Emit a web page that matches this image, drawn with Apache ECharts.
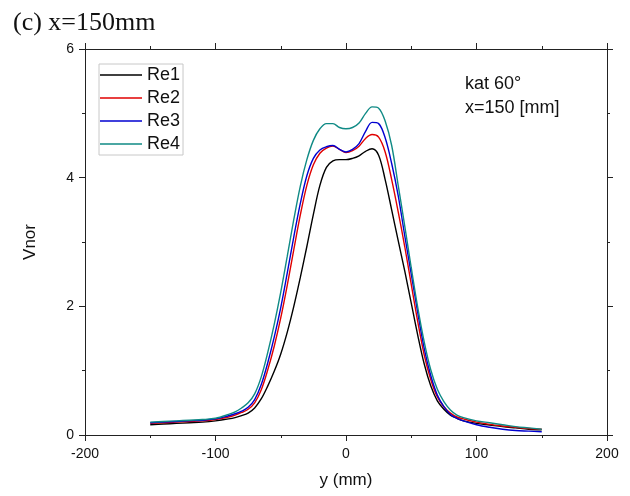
<!DOCTYPE html>
<html>
<head>
<meta charset="utf-8">
<script src="https://cdn.jsdelivr.net/npm/echarts@6/dist/echarts.min.js"></script>
<style>html,body{margin:0;padding:0;background:#fff}#c{width:630px;height:496px}</style>
</head>
<body>
<div id="c"></div>
<script>
var yPos = [-150,-140,-130,-120,-110,-100,-90,-85,-80,-75,-70,-65,-60,-55,-50,-45,-40,-35,-30,-25,-20,-15,-10,-5,0,5,10,15,20,25,30,35,40,45,50,55,60,65,70,75,80,85,90,100,110,120,130,140,150];
var re1 = [0.16,0.17,0.18,0.19,0.20,0.22,0.25,0.27,0.30,0.34,0.42,0.56,0.76,0.99,1.26,1.60,2.00,2.45,2.93,3.43,3.88,4.16,4.26,4.28,4.28,4.30,4.34,4.41,4.45,4.35,3.97,3.50,3.02,2.55,2.05,1.55,1.10,0.76,0.53,0.40,0.31,0.26,0.22,0.18,0.155,0.13,0.11,0.09,0.08];
var re2 = [0.18,0.19,0.20,0.21,0.22,0.24,0.28,0.31,0.35,0.40,0.50,0.70,1.01,1.38,1.82,2.33,2.88,3.42,3.88,4.20,4.38,4.46,4.49,4.44,4.39,4.42,4.49,4.61,4.67,4.63,4.40,3.97,3.47,2.93,2.34,1.76,1.24,0.86,0.59,0.44,0.34,0.28,0.25,0.20,0.165,0.14,0.12,0.10,0.09];
var re3 = [0.19,0.20,0.21,0.22,0.23,0.25,0.30,0.33,0.37,0.43,0.55,0.78,1.12,1.52,1.98,2.52,3.08,3.60,4.03,4.30,4.43,4.48,4.50,4.44,4.40,4.44,4.53,4.72,4.86,4.84,4.62,4.22,3.72,3.10,2.50,1.90,1.34,0.92,0.62,0.44,0.32,0.26,0.22,0.16,0.12,0.09,0.07,0.06,0.05];
var re4 = [0.20,0.21,0.22,0.23,0.24,0.26,0.32,0.36,0.42,0.50,0.64,0.90,1.28,1.72,2.22,2.78,3.35,3.87,4.28,4.58,4.76,4.84,4.84,4.78,4.76,4.78,4.85,5.00,5.10,5.08,4.88,4.50,3.88,3.25,2.60,1.98,1.44,1.01,0.71,0.52,0.39,0.31,0.27,0.22,0.19,0.16,0.13,0.11,0.09];
var seriesNames = ['Re1','Re2','Re3','Re4'];
var seriesValues = [re1, re2, re3, re4];
var seriesColors = ['#000000','#e00000','#0000d0','#0f8a85'];
var xTicks = {min:-200, max:200, interval:100};
var yTicks = {min:0, max:6, interval:2};

function pairs(vals){ return yPos.map(function(x,i){ return [x, vals[i]]; }); }

var axisCommon = {
  axisLine:{show:true, onZero:false, lineStyle:{color:'#222', width:1}},
  axisTick:{show:true, inside:false, length:6, lineStyle:{color:'#222', width:1}},
  minorTick:{show:true, splitNumber:2, length:3, lineStyle:{color:'#222', width:1}},
  splitLine:{show:false}
};
function mk(base, extra){ return Object.assign({}, JSON.parse(JSON.stringify(base)), extra); }

var chart = echarts.init(document.getElementById('c'), null, {renderer:'canvas'});
chart.setOption({
  animation:false,
  backgroundColor:'#fff',
  title:{text:'(c) x=150mm', left:8, top:5, textStyle:{fontFamily:'Liberation Serif', fontSize:26, fontWeight:'normal', color:'#111'}},
  grid:{left:85, right:23, top:49, bottom:61},
  legend:{
    orient:'vertical', left:99, top:64, data:seriesNames,
    icon:'rect', itemWidth:42, itemHeight:1.5, itemGap:3,
    borderColor:'#c8c8c8', borderWidth:1, padding:[1,3,1,1],
    textStyle:{fontFamily:'Liberation Sans', fontSize:18, color:'#111', lineHeight:20}
  },
  graphic:[
    {type:'text', left:465, top:75, style:{text:'kat 60°', font:'18px "Liberation Sans"', fill:'#111'}},
    {type:'text', left:465, top:99, style:{text:'x=150 [mm]', font:'18px "Liberation Sans"', fill:'#111'}}
  ],
  xAxis:[
    mk(axisCommon, {type:'value', position:'bottom', min:xTicks.min, max:xTicks.max, interval:xTicks.interval,
      name:'y (mm)', nameLocation:'middle', nameGap:37,
      nameTextStyle:{fontFamily:'Liberation Sans', fontSize:17, color:'#111'},
      axisLabel:{fontFamily:'Liberation Sans', fontSize:14, color:'#111', margin:12}}),
    mk(axisCommon, {type:'value', position:'top', min:xTicks.min, max:xTicks.max, interval:xTicks.interval,
      axisLabel:{show:false}})
  ],
  yAxis:[
    mk(axisCommon, {type:'value', position:'left', min:yTicks.min, max:yTicks.max, interval:yTicks.interval,
      name:'Vnor', nameLocation:'middle', nameGap:46, nameRotate:90,
      nameTextStyle:{fontFamily:'Liberation Sans', fontSize:17, color:'#111'},
      axisLabel:{fontFamily:'Liberation Sans', fontSize:14, color:'#111', margin:11}}),
    mk(axisCommon, {type:'value', position:'right', min:yTicks.min, max:yTicks.max, interval:yTicks.interval,
      axisLabel:{show:false}})
  ],
  series: seriesNames.map(function(n,i){
    return {name:n, type:'line', xAxisIndex:0, yAxisIndex:0, data:pairs(seriesValues[i]),
      showSymbol:false, symbol:'none', smooth:0.35,
      itemStyle:{color:seriesColors[i]},
      lineStyle:{color:seriesColors[i], width:1.4}};
  })
});
</script>
</body>
</html>
